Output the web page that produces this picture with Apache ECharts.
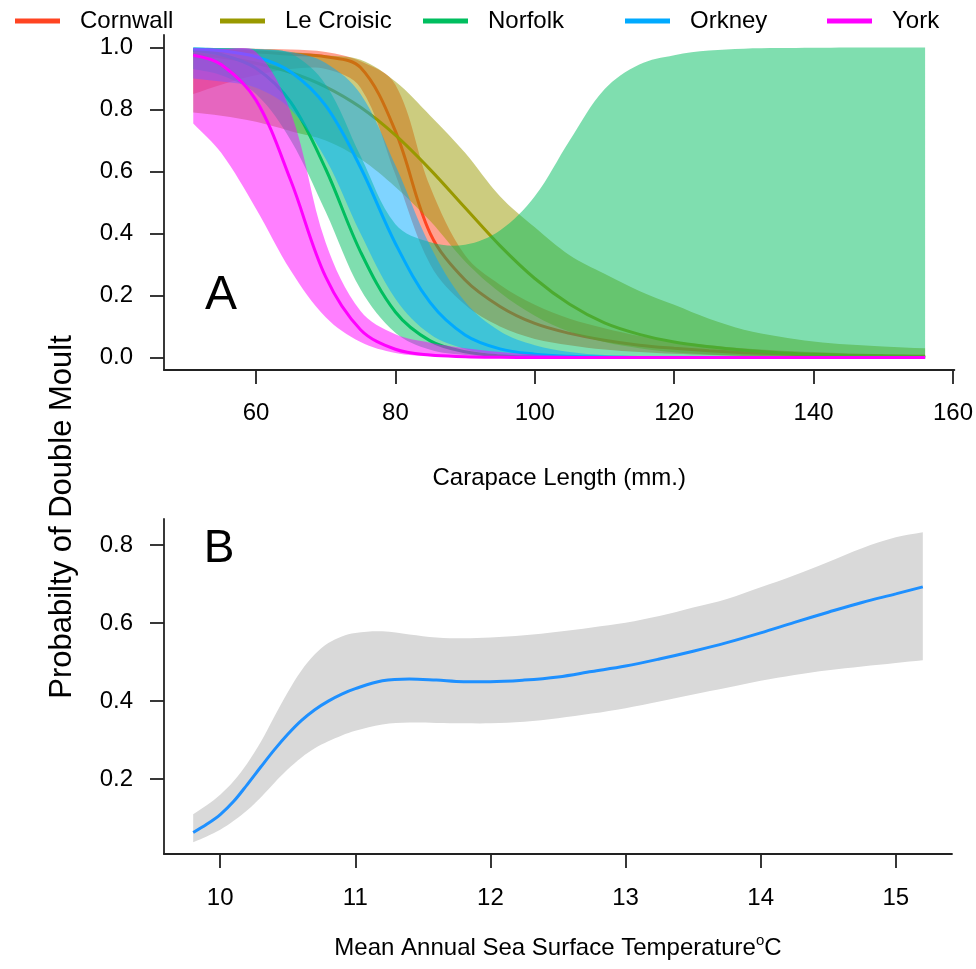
<!DOCTYPE html>
<html>
<head>
    <meta charset="utf-8">
    <title>double moult</title>
    <script src="https://cdn.jsdelivr.net/npm/echarts@6/dist/echarts.min.js"></script>
    <style>
        html, body { margin: 0; padding: 0; background: #fff; }
        #chart { width: 976px; height: 969px; }
    </style>
</head>
<body>
<div id="chart"></div>
<script>
    // panel A: carapace length (mm) and fitted probability with 95% band per site
    var lengthMm = [51, 55, 60, 65, 70, 75, 80, 85, 90, 95, 100, 105, 110, 115, 120, 125, 130, 135, 140, 145, 150, 156];

    var cornwallFit  = [0.99, 0.988, 0.985, 0.978, 0.97, 0.935, 0.73, 0.40, 0.25, 0.165, 0.11, 0.078, 0.056, 0.04, 0.03, 0.022, 0.016, 0.012, 0.009, 0.007, 0.005, 0.004];
    var cornwallLow  = [0.85, 0.88, 0.91, 0.93, 0.93, 0.87, 0.59, 0.30, 0.17, 0.10, 0.06, 0.04, 0.026, 0.018, 0.012, 0.008, 0.005, 0.004, 0.003, 0.002, 0.001, 0.001];
    var cornwallHigh = [0.998, 0.997, 0.996, 0.993, 0.985, 0.955, 0.88, 0.55, 0.33, 0.235, 0.17, 0.125, 0.095, 0.07, 0.052, 0.04, 0.03, 0.023, 0.018, 0.014, 0.011, 0.009];

    var croisicFit  = [0.979, 0.969, 0.949, 0.919, 0.873, 0.807, 0.717, 0.606, 0.483, 0.361, 0.255, 0.172, 0.112, 0.075, 0.05, 0.035, 0.024, 0.016, 0.011, 0.007, 0.005, 0.003];
    var croisicLow  = [0.79, 0.78, 0.76, 0.73, 0.70, 0.64, 0.55, 0.44, 0.31, 0.21, 0.135, 0.083, 0.05, 0.03, 0.017, 0.01, 0.006, 0.004, 0.002, 0.001, 0.001, 0];
    var croisicHigh = [0.999, 0.997, 0.993, 0.985, 0.975, 0.96, 0.89, 0.78, 0.66, 0.52, 0.42, 0.33, 0.27, 0.215, 0.17, 0.125, 0.09, 0.068, 0.052, 0.042, 0.036, 0.03];

    var norfolkFit  = [0.99, 0.977, 0.933, 0.823, 0.608, 0.341, 0.147, 0.054, 0.019, 0.006, 0.002, 0.001, 0, 0, 0, 0, 0, 0, 0, 0, 0, 0];
    var norfolkLow  = [0.93, 0.91, 0.85, 0.70, 0.47, 0.22, 0.08, 0.025, 0.008, 0.003, 0.001, 0, 0, 0, 0, 0, 0, 0, 0, 0, 0, 0];
    var norfolkHigh = [0.999, 0.998, 0.995, 0.98, 0.88, 0.65, 0.43, 0.372, 0.364, 0.41, 0.52, 0.70, 0.865, 0.945, 0.975, 0.99, 0.996, 0.998, 0.999, 1, 1, 1];

    var orkneyFit  = [0.995, 0.989, 0.97, 0.921, 0.812, 0.613, 0.368, 0.177, 0.073, 0.028, 0.011, 0.004, 0.0015, 0.0005, 0, 0, 0, 0, 0, 0, 0, 0];
    var orkneyLow  = [0.9, 0.89, 0.87, 0.8, 0.64, 0.4, 0.19, 0.075, 0.028, 0.01, 0.004, 0.001, 0, 0, 0, 0, 0, 0, 0, 0, 0, 0];
    var orkneyHigh = [0.999, 0.998, 0.995, 0.985, 0.95, 0.85, 0.62, 0.36, 0.18, 0.085, 0.04, 0.018, 0.008, 0.004, 0.002, 0.001, 0, 0, 0, 0, 0, 0];

    var yorkFit  = [0.975, 0.945, 0.83, 0.57, 0.26, 0.09, 0.027, 0.008, 0.003, 0.001, 0, 0, 0, 0, 0, 0, 0, 0, 0, 0, 0, 0];
    var yorkLow  = [0.755, 0.66, 0.48, 0.28, 0.13, 0.05, 0.015, 0.004, 0.001, 0, 0, 0, 0, 0, 0, 0, 0, 0, 0, 0, 0, 0];
    var yorkHigh = [0.998, 0.995, 0.985, 0.79, 0.37, 0.15, 0.075, 0.048, 0.03, 0.018, 0.01, 0.006, 0.003, 0.002, 0.001, 0.001, 0, 0, 0, 0, 0, 0];

    var lengthTicks = [60, 80, 100, 120, 140, 160];
    var probTicksA = [0, 0.2, 0.4, 0.6, 0.8, 1.0];

    // panel B: mean annual SST and fitted probability
    var sstC    = [9.8, 9.9, 10.0, 10.1, 10.2, 10.3, 10.4, 10.5, 10.6, 10.7, 10.8, 10.9, 11.0, 11.2, 11.4, 11.6, 11.8, 12.0, 12.25, 12.5, 12.75, 13.0, 13.25, 13.5, 13.75, 14.0, 14.25, 14.5, 14.75, 15.0, 15.2];
    var sstFit  = [0.063, 0.084, 0.109, 0.143, 0.186, 0.231, 0.275, 0.315, 0.35, 0.378, 0.40, 0.418, 0.432, 0.452, 0.457, 0.454, 0.45, 0.45, 0.454, 0.462, 0.476, 0.49, 0.508, 0.528, 0.55, 0.575, 0.602, 0.628, 0.653, 0.675, 0.693];
    var sstLow  = [0.038, 0.053, 0.07, 0.093, 0.12, 0.153, 0.19, 0.225, 0.255, 0.279, 0.297, 0.312, 0.324, 0.34, 0.345, 0.344, 0.343, 0.343, 0.347, 0.356, 0.368, 0.382, 0.399, 0.417, 0.434, 0.452, 0.467, 0.479, 0.489, 0.498, 0.505];
    var sstHigh = [0.11, 0.133, 0.16, 0.195, 0.24, 0.295, 0.36, 0.423, 0.478, 0.52, 0.549, 0.566, 0.575, 0.579, 0.571, 0.563, 0.561, 0.563, 0.569, 0.578, 0.589, 0.601, 0.618, 0.64, 0.662, 0.692, 0.723, 0.757, 0.792, 0.82, 0.833];

    var sstTicks = [10, 11, 12, 13, 14, 15];
    var probTicksB = [0.2, 0.4, 0.6, 0.8];

    var sites = [
        {name: 'Cornwall', color: '#FF4422', fit: cornwallFit, low: cornwallLow, high: cornwallHigh},
        {name: 'Le Croisic', color: '#999900', fit: croisicFit, low: croisicLow, high: croisicHigh},
        {name: 'Norfolk', color: '#00BE5F', fit: norfolkFit, low: norfolkLow, high: norfolkHigh},
        {name: 'Orkney', color: '#00AAFF', fit: orkneyFit, low: orkneyLow, high: orkneyHigh},
        {name: 'York', color: '#FF00FF', fit: yorkFit, low: yorkLow, high: yorkHigh}
    ];
    var legendLeft = [10, 215, 418, 620, 822];

    var FONT = '"Liberation Sans", Arial, sans-serif';
    var axisLine = {show: true, onZero: false, lineStyle: {color: '#222', width: 1.8}};
    var tickStyle = {color: '#222', width: 1.8};

    function rgba(hex, a) {
        var n = parseInt(hex.slice(1), 16);
        return 'rgba(' + (n >> 16 & 255) + ',' + (n >> 8 & 255) + ',' + (n & 255) + ',' + a + ')';
    }

    function pairs(xs, ys) {
        return xs.map(function (x, i) { return [x, ys[i]]; });
    }

    // confidence band drawn as one smoothed polygon (upper edge, then lower edge back)
    function bandSeries(key, xs, low, high, fill, axisIdx, z) {
        return {
            name: key + ' band', type: 'custom', xAxisIndex: axisIdx, yAxisIndex: axisIdx,
            silent: true, z: z,
            data: xs.map(function (x, i) { return [x, low[i], high[i]]; }),
            encode: {x: 0, y: [1, 2]},
            renderItem: function (params, api) {
                if (params.dataIndex !== 0) return null;
                var up = xs.map(function (x, i) { return api.coord([x, high[i]]); });
                var dn = xs.map(function (x, i) { return api.coord([x, low[i]]); }).reverse();
                // doubled corner points keep the end edges straight
                var pts = up.concat([up[up.length - 1], dn[0]], dn, [dn[dn.length - 1], up[0]]);
                return {
                    type: 'polygon',
                    shape: {points: pts, smooth: 0.35},
                    style: {fill: fill},
                    silent: true
                };
            }
        };
    }

    // each site: band then its line, so later bands tint earlier lines
    var series = [];
    sites.forEach(function (s, i) {
        series.push(bandSeries(s.name, lengthMm, s.low, s.high, rgba(s.color, 0.5), 0, 2 + 2 * i));
        series.push({
            name: s.name, type: 'line', xAxisIndex: 0, yAxisIndex: 0, z: 3 + 2 * i,
            data: pairs(lengthMm, s.fit), smooth: 0.35, showSymbol: false,
            itemStyle: {color: s.color},
            lineStyle: {color: s.color, width: 3}
        });
    });
    series.push(bandSeries('sst', sstC, sstLow, sstHigh, '#D9D9D9', 1, 20));
    series.push({
        name: 'sst fit', type: 'line', xAxisIndex: 1, yAxisIndex: 1, z: 21,
        data: pairs(sstC, sstFit), smooth: 0.35, showSymbol: false,
        lineStyle: {color: '#1E90FF', width: 3}
    });

    var legends = sites.map(function (s, i) {
        return {
            data: [s.name], left: legendLeft[i], top: 4, icon: 'rect',
            itemWidth: 45, itemHeight: 5, selectedMode: false,
            textStyle: {fontSize: 24, color: '#000', fontFamily: FONT, padding: [0, 0, 0, 15]}
        };
    });

    var Mychart = echarts.init(document.getElementById('chart'));
    var option = {
        animation: false,
        backgroundColor: '#fff',
        legend: legends,
        grid: [
            {left: 164, right: 18, top: 35, height: 335},
            {left: 164, right: 24, top: 519, height: 335}
        ],
        xAxis: [
            {
                gridIndex: 0, type: 'value', min: 46.8, max: 160.2,
                axisLine: axisLine,
                axisTick: {show: true, length: 14, customValues: lengthTicks, lineStyle: tickStyle},
                axisLabel: {customValues: lengthTicks, margin: 31, fontSize: 24, color: '#000', fontFamily: FONT},
                splitLine: {show: false},
                name: 'Carapace Length (mm.)', nameLocation: 'middle', nameGap: 96,
                nameTextStyle: {fontSize: 24, color: '#000', fontFamily: FONT}
            },
            {
                gridIndex: 1, type: 'value', min: 9.584, max: 15.416,
                axisLine: axisLine,
                axisTick: {show: true, length: 14, customValues: sstTicks, lineStyle: tickStyle},
                axisLabel: {customValues: sstTicks, margin: 32, fontSize: 24, color: '#000', fontFamily: FONT},
                splitLine: {show: false},
                name: 'Mean Annual Sea Surface Temperature{sup|o}C', nameLocation: 'middle', nameGap: 79,
                nameTextStyle: {
                    fontSize: 24, color: '#000', fontFamily: FONT,
                    rich: {sup: {fontSize: 15, color: '#000', fontFamily: FONT, verticalAlign: 'top', padding: [0, 0, 16, 0]}}
                }
            }
        ],
        yAxis: [
            {
                gridIndex: 0, type: 'value', min: -0.04, max: 1.04,
                axisLine: axisLine,
                axisTick: {show: true, length: 14, customValues: probTicksA, lineStyle: tickStyle},
                axisLabel: {
                    customValues: probTicksA, margin: 31, fontSize: 24, color: '#000', fontFamily: FONT,
                    formatter: function (v) { return v.toFixed(1); }
                },
                splitLine: {show: false}
            },
            {
                gridIndex: 1, type: 'value', min: 0.008, max: 0.867,
                axisLine: axisLine,
                axisTick: {show: true, length: 14, customValues: probTicksB, lineStyle: tickStyle},
                axisLabel: {
                    customValues: probTicksB, margin: 31, fontSize: 24, color: '#000', fontFamily: FONT,
                    formatter: function (v) { return v.toFixed(1); }
                },
                splitLine: {show: false}
            }
        ],
        graphic: [
            {
                type: 'text', x: 62, y: 517, rotation: Math.PI / 2,
                style: {text: 'Probabilty of Double Moult', font: '31px ' + FONT, fill: '#000', textAlign: 'center', textVerticalAlign: 'middle'}
            },
            {
                type: 'text', x: 221, y: 296,
                style: {text: 'A', font: '48px ' + FONT, fill: '#000', textAlign: 'center', textVerticalAlign: 'middle'}
            },
            {
                type: 'text', x: 219, y: 549,
                style: {text: 'B', font: '46px ' + FONT, fill: '#000', textAlign: 'center', textVerticalAlign: 'middle'}
            }
        ],
        series: series
    };
    Mychart.setOption(option);
</script>
</body>
</html>
